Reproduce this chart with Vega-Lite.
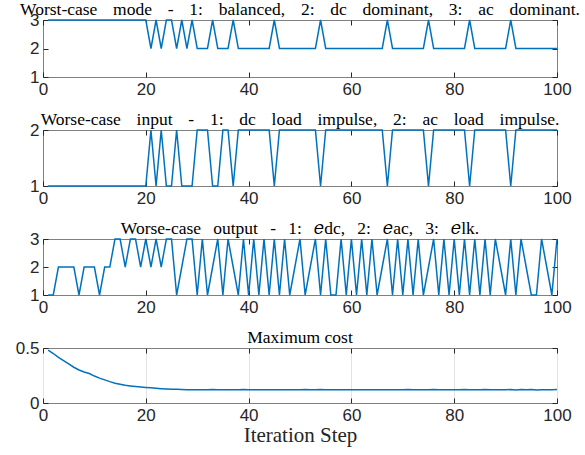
{
"$schema": "https://vega.github.io/schema/vega-lite/v6.json",
"background": "white",
"padding": {"left": 14, "top": 0, "right": 0, "bottom": 5},
"config": {
  "view": {"stroke": "#808080", "strokeWidth": 1},
  "axis": {"labelFont": "Liberation Sans", "labelFontSize": 17, "labelColor": "#262626", "tickColor": "#262626", "tickSize": -5, "domain": false, "grid": false, "labelPadding": 9, "labelFlush": false, "labelOverlap": false, "titleFont": "Liberation Serif", "titleFontWeight": "normal", "titleFontSize": 21, "titleColor": "#262626"},
  "title": {"font": "Liberation Serif", "fontSize": 17.5, "fontWeight": "normal", "color": "#000000", "offset": -7, "frame": "group"},
  "line": {"color": "#0072BD", "strokeWidth": 1.5},
  "concat": {"spacing": 12}
},
"data": {"values": [
{"step":1,"mode":3,"input":1,"output":1,"cost":0.480},
{"step":2,"mode":3,"input":1,"output":1,"cost":0.450},
{"step":3,"mode":3,"input":1,"output":2,"cost":0.415},
{"step":4,"mode":3,"input":1,"output":2,"cost":0.385},
{"step":5,"mode":3,"input":1,"output":2,"cost":0.355},
{"step":6,"mode":3,"input":1,"output":2,"cost":0.325},
{"step":7,"mode":3,"input":1,"output":1,"cost":0.300},
{"step":8,"mode":3,"input":1,"output":2,"cost":0.282},
{"step":9,"mode":3,"input":1,"output":2,"cost":0.268},
{"step":10,"mode":3,"input":1,"output":2,"cost":0.245},
{"step":11,"mode":3,"input":1,"output":1,"cost":0.226},
{"step":12,"mode":3,"input":1,"output":2,"cost":0.210},
{"step":13,"mode":3,"input":1,"output":2,"cost":0.194},
{"step":14,"mode":3,"input":1,"output":3,"cost":0.180},
{"step":15,"mode":3,"input":1,"output":3,"cost":0.170},
{"step":16,"mode":3,"input":1,"output":2,"cost":0.161},
{"step":17,"mode":3,"input":1,"output":3,"cost":0.155},
{"step":18,"mode":3,"input":1,"output":3,"cost":0.150},
{"step":19,"mode":3,"input":1,"output":2,"cost":0.146},
{"step":20,"mode":3,"input":1,"output":3,"cost":0.142},
{"step":21,"mode":2,"input":2,"output":2,"cost":0.138},
{"step":22,"mode":3,"input":1,"output":3,"cost":0.134},
{"step":23,"mode":2,"input":2,"output":2,"cost":0.130},
{"step":24,"mode":3,"input":1,"output":3,"cost":0.127},
{"step":25,"mode":3,"input":1,"output":3,"cost":0.125},
{"step":26,"mode":2,"input":2,"output":1,"cost":0.124},
{"step":27,"mode":3,"input":1,"output":2,"cost":0.122},
{"step":28,"mode":2,"input":1,"output":3,"cost":0.121},
{"step":29,"mode":3,"input":1,"output":3,"cost":0.120},
{"step":30,"mode":2,"input":2,"output":1,"cost":0.121},
{"step":31,"mode":2,"input":2,"output":3,"cost":0.120},
{"step":32,"mode":2,"input":2,"output":1,"cost":0.121},
{"step":33,"mode":3,"input":1,"output":2,"cost":0.122},
{"step":34,"mode":2,"input":1,"output":3,"cost":0.120},
{"step":35,"mode":2,"input":2,"output":1,"cost":0.121},
{"step":36,"mode":2,"input":2,"output":3,"cost":0.121},
{"step":37,"mode":3,"input":1,"output":2,"cost":0.120},
{"step":38,"mode":2,"input":2,"output":1,"cost":0.121},
{"step":39,"mode":2,"input":2,"output":3,"cost":0.122},
{"step":40,"mode":2,"input":2,"output":1,"cost":0.121},
{"step":41,"mode":2,"input":2,"output":3,"cost":0.121},
{"step":42,"mode":2,"input":2,"output":1,"cost":0.120},
{"step":43,"mode":2,"input":2,"output":3,"cost":0.121},
{"step":44,"mode":2,"input":2,"output":1,"cost":0.121},
{"step":45,"mode":3,"input":1,"output":3,"cost":0.120},
{"step":46,"mode":2,"input":2,"output":1,"cost":0.121},
{"step":47,"mode":2,"input":2,"output":3,"cost":0.121},
{"step":48,"mode":2,"input":2,"output":1,"cost":0.120},
{"step":49,"mode":2,"input":2,"output":2,"cost":0.121},
{"step":50,"mode":2,"input":2,"output":3,"cost":0.121},
{"step":51,"mode":2,"input":2,"output":1,"cost":0.122},
{"step":52,"mode":2,"input":2,"output":2,"cost":0.120},
{"step":53,"mode":2,"input":2,"output":3,"cost":0.121},
{"step":54,"mode":3,"input":1,"output":1,"cost":0.122},
{"step":55,"mode":2,"input":2,"output":3,"cost":0.120},
{"step":56,"mode":2,"input":2,"output":1,"cost":0.121},
{"step":57,"mode":2,"input":2,"output":1,"cost":0.121},
{"step":58,"mode":2,"input":2,"output":3,"cost":0.120},
{"step":59,"mode":2,"input":2,"output":1,"cost":0.121},
{"step":60,"mode":2,"input":2,"output":3,"cost":0.121},
{"step":61,"mode":2,"input":2,"output":1,"cost":0.121},
{"step":62,"mode":2,"input":2,"output":3,"cost":0.120},
{"step":63,"mode":2,"input":2,"output":1,"cost":0.121},
{"step":64,"mode":2,"input":2,"output":3,"cost":0.121},
{"step":65,"mode":2,"input":2,"output":1,"cost":0.120},
{"step":66,"mode":2,"input":2,"output":2,"cost":0.121},
{"step":67,"mode":3,"input":1,"output":3,"cost":0.121},
{"step":68,"mode":2,"input":2,"output":1,"cost":0.120},
{"step":69,"mode":2,"input":2,"output":3,"cost":0.121},
{"step":70,"mode":2,"input":2,"output":1,"cost":0.121},
{"step":71,"mode":2,"input":2,"output":3,"cost":0.122},
{"step":72,"mode":2,"input":2,"output":1,"cost":0.121},
{"step":73,"mode":2,"input":2,"output":3,"cost":0.120},
{"step":74,"mode":2,"input":2,"output":1,"cost":0.121},
{"step":75,"mode":3,"input":1,"output":2,"cost":0.121},
{"step":76,"mode":2,"input":2,"output":3,"cost":0.122},
{"step":77,"mode":2,"input":2,"output":1,"cost":0.120},
{"step":78,"mode":2,"input":2,"output":3,"cost":0.121},
{"step":79,"mode":2,"input":2,"output":1,"cost":0.121},
{"step":80,"mode":2,"input":2,"output":3,"cost":0.120},
{"step":81,"mode":2,"input":2,"output":1,"cost":0.121},
{"step":82,"mode":2,"input":2,"output":3,"cost":0.122},
{"step":83,"mode":3,"input":1,"output":1,"cost":0.120},
{"step":84,"mode":2,"input":2,"output":3,"cost":0.121},
{"step":85,"mode":2,"input":2,"output":1,"cost":0.121},
{"step":86,"mode":2,"input":2,"output":3,"cost":0.122},
{"step":87,"mode":2,"input":2,"output":1,"cost":0.120},
{"step":88,"mode":2,"input":2,"output":3,"cost":0.121},
{"step":89,"mode":2,"input":2,"output":2,"cost":0.120},
{"step":90,"mode":2,"input":2,"output":1,"cost":0.121},
{"step":91,"mode":3,"input":1,"output":3,"cost":0.122},
{"step":92,"mode":2,"input":2,"output":1,"cost":0.119},
{"step":93,"mode":2,"input":2,"output":3,"cost":0.122},
{"step":94,"mode":2,"input":2,"output":2,"cost":0.120},
{"step":95,"mode":2,"input":2,"output":1,"cost":0.122},
{"step":96,"mode":2,"input":2,"output":1,"cost":0.119},
{"step":97,"mode":2,"input":2,"output":3,"cost":0.121},
{"step":98,"mode":2,"input":2,"output":2,"cost":0.120},
{"step":99,"mode":2,"input":2,"output":1,"cost":0.121},
{"step":100,"mode":2,"input":2,"output":3,"cost":0.123}
]},
"vconcat": [
{
  "title": "Worst-case\u2002\u2009\u2009mode\u2002\u2009\u2009-\u2002\u2009\u20091:\u2002\u2009\u2009balanced,\u2002\u2009\u20092:\u2002\u2009\u2009dc\u2002\u2009\u2009dominant,\u2002\u2009\u20093:\u2002\u2009\u2009ac\u2002\u2009\u2009dominant.",
  "width": 514, "height": 57,
  "layer": [
    {"mark": {"type": "line"},
     "encoding": {
      "x": {"field": "step", "type": "quantitative", "scale": {"domain": [0, 100]}, "axis": {"values": [0, 20, 40, 60, 80, 100], "title": null}},
      "y": {"field": "mode", "type": "quantitative", "scale": {"domain": [1, 3]}, "axis": {"values": [1, 2, 3], "labelExpr": "'' + datum.value", "title": null, "offset": -5, "tickSize": 5, "labelPadding": 4}}
     }},
    {"mark": {"type": "line", "opacity": 0},
     "encoding": {
      "x": {"field": "step", "type": "quantitative", "axis": {"orient": "top", "values": [0, 20, 40, 60, 80, 100], "labels": false, "title": null}},
      "y": {"field": "mode", "type": "quantitative", "axis": {"orient": "right", "values": [1, 2, 3], "labels": false, "title": null}}
     }}
  ],
  "resolve": {"axis": {"x": "independent", "y": "independent"}}
},
{
  "title": "Worse-case\u2002\u2009\u2009input\u2002\u2009\u2009-\u2002\u2009\u20091:\u2002\u2009\u2009dc\u2002\u2009\u2009load\u2002\u2009\u2009impulse,\u2002\u2009\u20092:\u2002\u2009\u2009ac\u2002\u2009\u2009load\u2002\u2009\u2009impulse.",
  "width": 514, "height": 56,
  "layer": [
    {"mark": {"type": "line"},
     "encoding": {
      "x": {"field": "step", "type": "quantitative", "scale": {"domain": [0, 100]}, "axis": {"values": [0, 20, 40, 60, 80, 100], "title": null}},
      "y": {"field": "input", "type": "quantitative", "scale": {"domain": [1, 2]}, "axis": {"values": [1, 2], "labelExpr": "'' + datum.value", "title": null, "offset": -5, "tickSize": 5, "labelPadding": 4}}
     }},
    {"mark": {"type": "line", "opacity": 0},
     "encoding": {
      "x": {"field": "step", "type": "quantitative", "axis": {"orient": "top", "values": [0, 20, 40, 60, 80, 100], "labels": false, "title": null}},
      "y": {"field": "input", "type": "quantitative", "axis": {"orient": "right", "values": [1, 2], "labels": false, "title": null}}
     }}
  ],
  "resolve": {"axis": {"x": "independent", "y": "independent"}}
},
{
  "title": "Worse-case\u2002\u2009output\u2002\u2009-\u2002\u20091:\u2002\u2009𝑒dc,\u2002\u20092:\u2002\u2009𝑒ac,\u2002\u20093:\u2002\u2009𝑒lk.",
  "width": 514, "height": 56,
  "layer": [
    {"mark": {"type": "line"},
     "encoding": {
      "x": {"field": "step", "type": "quantitative", "scale": {"domain": [0, 100]}, "axis": {"values": [0, 20, 40, 60, 80, 100], "title": null}},
      "y": {"field": "output", "type": "quantitative", "scale": {"domain": [1, 3]}, "axis": {"values": [1, 2, 3], "labelExpr": "'' + datum.value", "title": null, "offset": -5, "tickSize": 5, "labelPadding": 4}}
     }},
    {"mark": {"type": "line", "opacity": 0},
     "encoding": {
      "x": {"field": "step", "type": "quantitative", "axis": {"orient": "top", "values": [0, 20, 40, 60, 80, 100], "labels": false, "title": null}},
      "y": {"field": "output", "type": "quantitative", "axis": {"orient": "right", "values": [1, 2, 3], "labels": false, "title": null}}
     }}
  ],
  "resolve": {"axis": {"x": "independent", "y": "independent"}}
},
{
  "title": "Maximum cost",
  "width": 514, "height": 55,
  "layer": [
    {"mark": {"type": "line"},
     "encoding": {
      "x": {"field": "step", "type": "quantitative", "scale": {"domain": [0, 100]}, "axis": {"values": [0, 20, 40, 60, 80, 100], "title": "Iteration Step", "grid": true, "gridColor": "#e3e3e3", "titlePadding": 1}},
      "y": {"field": "cost", "type": "quantitative", "scale": {"domain": [0, 0.5]}, "axis": {"values": [0, 0.5], "format": "~g", "title": null, "offset": -5, "tickSize": 5, "labelPadding": 4}}
     }},
    {"mark": {"type": "line", "opacity": 0},
     "encoding": {
      "x": {"field": "step", "type": "quantitative", "axis": {"orient": "top", "values": [0, 20, 40, 60, 80, 100], "labels": false, "title": null}},
      "y": {"field": "cost", "type": "quantitative", "axis": {"orient": "right", "values": [0, 0.5], "labels": false, "title": null}}
     }}
  ],
  "resolve": {"axis": {"x": "independent", "y": "independent"}}
}
]
}
